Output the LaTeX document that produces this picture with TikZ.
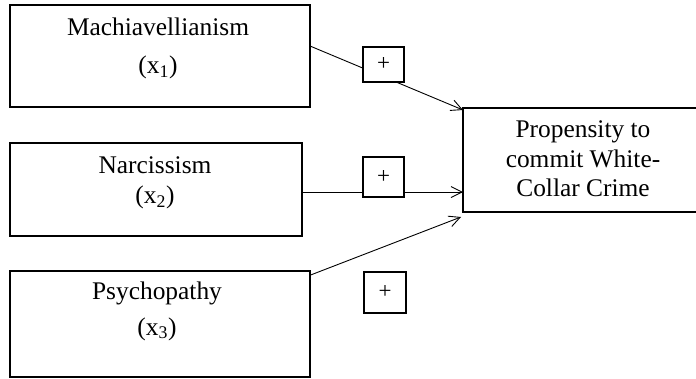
\documentclass[tikz,border=0pt]{standalone}
\usepackage{fontspec}
\setmainfont{Liberation Serif}
\usetikzlibrary{arrows.meta,calc}
\begin{document}
\begin{tikzpicture}[x=1pt,y=-1pt,
 box/.style={draw=black, line width=1.1pt, rectangle, inner sep=0pt, outer sep=0pt},
 lbl/.style={anchor=base, inner sep=0pt, font=\fontsize{25.4}{30}\selectfont},
 plusbox/.style={draw=black, fill=white, line width=1.1pt, inner sep=0pt, outer sep=0pt, font=\fontsize{23}{25}\selectfont},
 link/.style={line width=0.9pt, -{Straight Barb[length=11pt,width=11pt,line width=0.9pt]}},
]
\useasboundingbox (0,0) rectangle (696,379);
% boxes
\node[box, minimum width=300pt, minimum height=102pt] (mach) at (160,56) {};
\node[box, minimum width=292pt, minimum height=93pt] (narc) at (156,189.5) {};
\node[box, minimum width=300pt, minimum height=106pt] (psy) at (160,324) {};
\node[box, minimum width=240pt, minimum height=104pt] (tgt) at (583,160) {};
% labels
\node[lbl] (macht) at (158,35.7) {Machiavellianism};
\node[lbl] (machx) at (158,74) {(x\textsubscript{1})};
\node[lbl] (narct) at (155,173.3) {Narcissism};
\node[lbl] (narcx) at (155,204) {(x\textsubscript{2})};
\node[lbl] (psyt) at (157,300) {Psychopathy};
\node[lbl] (psyx) at (157,335) {(x\textsubscript{3})};
\node[lbl] (tgt1) at (583,137.3) {Propensity to};
\node[lbl] (tgt2) at (583,167.3) {commit White-};
\node[lbl] (tgt3) at (583,196.7) {Collar Crime};
% connectors
\coordinate (a1) at ($(mach.north east)!0.402!(mach.south east)$);
\coordinate (b1) at ($(tgt.north west)+(0,2)$);
\coordinate (a2) at ($(narc.north east)!0.527!(narc.south east)$);
\coordinate (a3) at ($(psy.north east)!0.04!(psy.south east)$);
\coordinate (b3) at ($(tgt.south west)+(-2,5)$);
\draw[link] (a1) -- (b1);
\draw[link] (a2) -- (a2 -| tgt.west);
\draw[link] (a3) -- (b3);
% plus signs
\node[plusbox, minimum width=41pt, minimum height=35pt] (plus1) at (383.5,64.5) {+};
\node[plusbox, minimum width=41pt, minimum height=40pt] (plus2) at (383.5,177) {+};
\node[plusbox, minimum width=42pt, minimum height=41pt] (plus3) at (385,292.5) {+};
\end{tikzpicture}
\end{document}
